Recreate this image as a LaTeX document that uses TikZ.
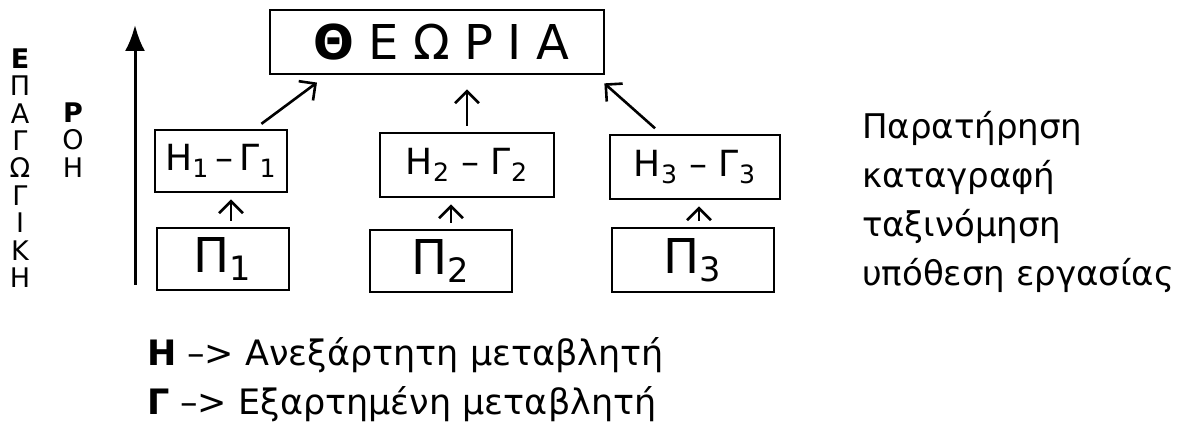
\documentclass[tikz,border=0pt]{standalone}
\usepackage{fontspec}
\setmainfont{DejaVu Sans}
\usetikzlibrary{arrows.meta}

\begin{document}
\begin{tikzpicture}[
    x=0.5pt, y=-0.5pt,
    box/.style={rectangle,draw,line width=1.4pt,inner sep=0pt},
    hg/.style={font=\fontsize{18}{22}\selectfont},
    pbox/.style={font=\fontsize{24}{28}\selectfont},
    up/.style={-{Straight Barb[length=6pt,width=12pt]},line width=1.3pt},
    letters/.style={align=center,font=\fontsize{13.5}{13.7}\selectfont},
    note/.style={font=\fontsize{17}{24.5}\selectfont},
    defn/.style={font=\fontsize{17.5}{22}\selectfont}
]
\useasboundingbox (0,0) rectangle (1200,438);

\node[box,minimum width=167pt,minimum height=32pt,font=\fontsize{24}{28}\selectfont] (theoria) at (437,42)
    {\addfontfeature{LetterSpace=30}\hspace*{4pt}\textbf{Θ}ΕΩΡΙΑ};

\node[box,hg,minimum width=66pt,minimum height=31pt] (h1) at (221,161) {Η\textsubscript{1}\,–\,Γ\textsubscript{1}};
\node[box,hg,minimum width=87pt,minimum height=32pt] (h2) at (467,165) {Η\textsubscript{2} – Γ\textsubscript{2}};
\node[box,hg,minimum width=85pt,minimum height=32pt] (h3) at (695,167) {Η\textsubscript{3} – Γ\textsubscript{3}};

\node[box,pbox,minimum width=66pt,minimum height=31pt] (p1) at (223,259) {Π\textsubscript{1}};
\node[box,pbox,minimum width=71pt,minimum height=31pt] (p2) at (441,261) {Π\textsubscript{2}};
\node[box,pbox,minimum width=81pt,minimum height=32pt] (p3) at (693,260) {Π\textsubscript{3}};

\draw[up,shorten <=3pt,shorten >=3pt] ([xshift=4pt]p1.north) -- ([xshift=4pt]p1.north |- h1.south);
\draw[up,shorten <=3pt,shorten >=3pt] ([xshift=5pt]p2.north) -- ([xshift=5pt]p2.north |- h2.south);
\draw[up,shorten <=3pt,shorten >=3pt] ([xshift=3pt]p3.north) -- ([xshift=3pt]p3.north |- h3.south);

\draw[up,shorten <=4pt,shorten >=6pt] ([xshift=17pt]h1.north) -- ([xshift=29pt]theoria.south west);
\draw[up,shorten <=3pt,shorten >=7pt] (h2.north) -- (h2.north |- theoria.south);
\draw[up,shorten <=4pt,shorten >=6pt] ([xshift=-17pt]h3.north) -- ([xshift=-5pt]theoria.south east);

\coordinate (flowbot) at (135,285);
\coordinate (flowtop) at (135,25);
\draw[-{Latex[length=13pt,width=10pt]},line width=1.5pt] (flowbot) -- (flowtop);

\node[letters] (epagogiki) at (20,168) {\textbf{Ε}\\Π\\Α\\Γ\\Ω\\Γ\\Ι\\Κ\\Η};
\node[letters] (roi) at (73,140) {\textbf{Ρ}\\Ο\\Η};

\node[note,align=left,anchor=west] (steps) at (855,202)
    {Παρατήρηση\\καταγραφή\\ταξινόμηση\\υπόθεση εργασίας};

\node[defn,anchor=base west] (hdef) at (140,365) {\textbf{Η} --> Ανεξάρτητη μεταβλητή};
\node[defn,anchor=base west] (gdef) at (140,415) {\textbf{Γ} --> Εξαρτημένη μεταβλητή};
\end{tikzpicture}
\end{document}
